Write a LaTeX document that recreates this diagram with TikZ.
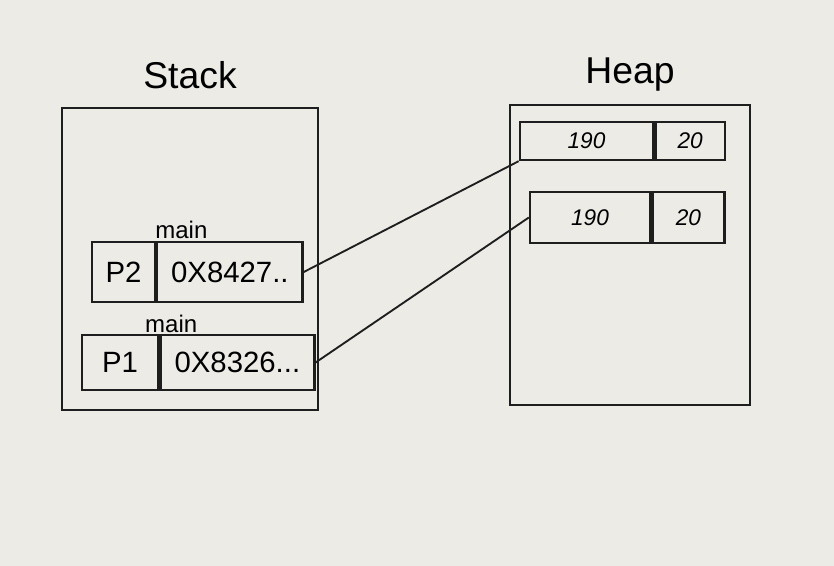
\documentclass[tikz,border=0pt]{standalone}
\usepackage{fontspec}
\setmainfont{Liberation Sans}
\usetikzlibrary{positioning}
\definecolor{paper}{RGB}{236,235,230}
\definecolor{ink}{RGB}{30,30,30}
\tikzset{
  memnode/.style  = {draw=ink, line width=2pt, inner sep=0pt},
  cellnode/.style = {draw=ink, line width=1.8pt, inner sep=0pt,
                     font=\fontsize{22}{24}\selectfont},
  heapcell/.style = {cellnode, font=\fontsize{17}{19}\selectfont\itshape},
  title/.style    = {font=\fontsize{28}{30}\selectfont},
  frame/.style    = {font=\fontsize{18}{18}\selectfont, inner sep=1pt},
  link/.style     = {-, line width=1.4pt, ink},
}
\begin{document}
\begin{tikzpicture}[x=0.75pt, y=-0.75pt]
  \fill[paper] (0,0) rectangle (834,566);
  \useasboundingbox (0,0) rectangle (834,566);

  % memory areas
  \node[memnode, minimum width=192pt, minimum height=226.5pt] (stack) at (190,259) {};
  \node[memnode, minimum width=180pt, minimum height=225pt] (heap) at (630,255) {};
  \node[title, above=10pt of stack] (stacklbl) {Stack};
  \node[title, above=6pt of heap] (heaplbl) {Heap};

  % stack frames
  \node[cellnode, minimum width=47pt, minimum height=45pt] (p2key) at (123.5,272) {P2};
  \node[cellnode, minimum width=109pt, minimum height=45pt, right=0pt of p2key] (p2val) {0X8427..};
  \node[frame, above=0pt of p2val.north west, xshift=19pt] (p2main) {main};
  \node[cellnode, minimum width=57pt, minimum height=41pt] (p1key) at (120,362.5) {P1};
  \node[cellnode, minimum width=115.5pt, minimum height=41pt, right=0pt of p1key] (p1val) {0X8326...};
  \node[frame, above=0pt of p1val.north west, xshift=9pt] (p1main) {main};

  % heap objects
  \node[heapcell, minimum width=100pt, minimum height=28.5pt] (h1key) at (586.5,141) {190};
  \node[heapcell, minimum width=52pt, minimum height=28.5pt, right=0pt of h1key] (h1val) {20};
  \node[heapcell, minimum width=90pt, minimum height=38pt] (h2key) at (590,217.5) {190};
  \node[heapcell, minimum width=54pt, minimum height=38pt, right=0pt of h2key] (h2val) {20};

  % references
  \draw[link] (p2val.east) -- (h1key.south west);
  \draw[link] (p1val.east) -- (h2key.west);
\end{tikzpicture}
\end{document}
